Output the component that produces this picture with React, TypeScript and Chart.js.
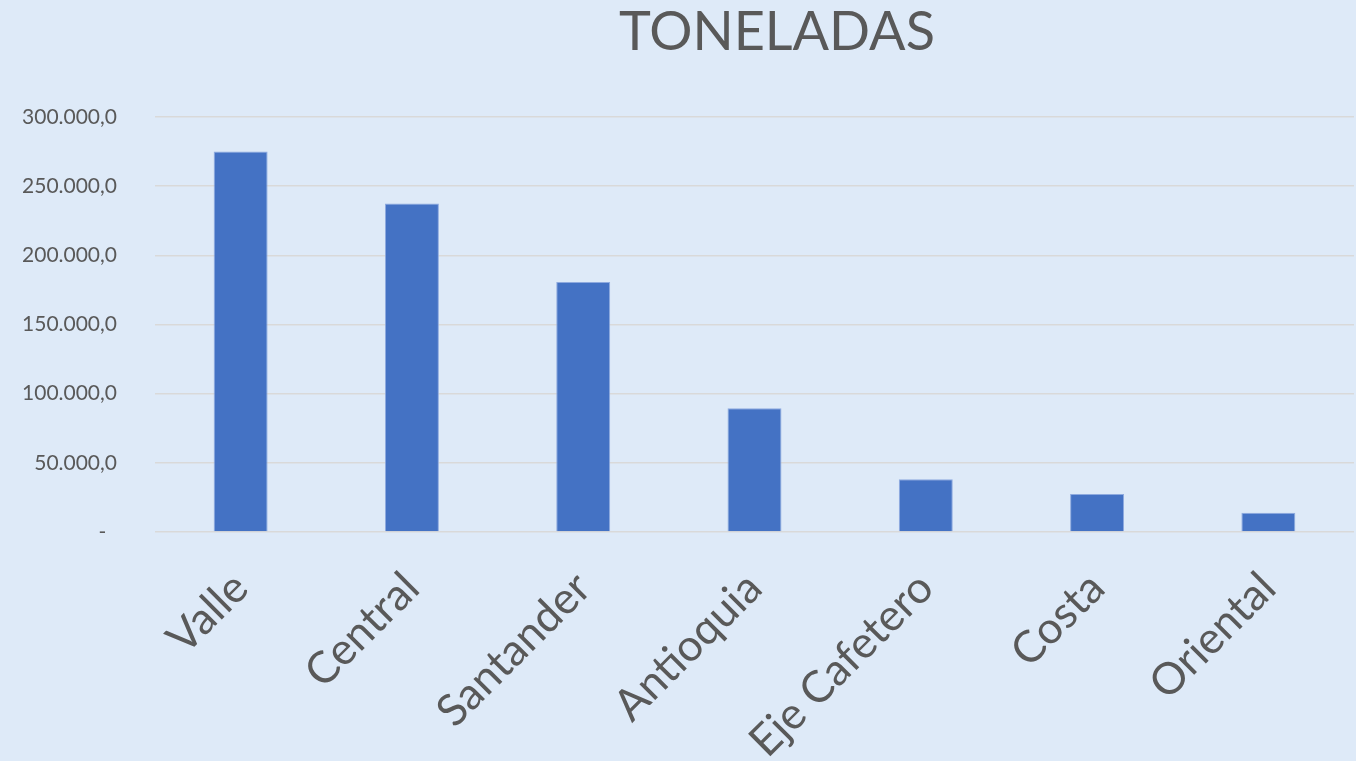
import React, { useEffect, useRef } from "react";
import { Chart, registerables } from "chart.js";

Chart.register(...registerables);

const categories = ["Valle", "Central", "Santander", "Antioquia", "Eje Cafetero", "Costa", "Oriental"];
const toneladas = [275000, 237500, 180800, 89400, 38200, 27400, 14000];
const yTicks = [0, 50000, 100000, 150000, 200000, 250000, 300000];
const titleText = "TONELADAS";

const BG = "#DEEAF8";
const TEXT = "#595959";
const FONT = "Lato, 'Open Sans', sans-serif";

function fmt(v: number): string {
  if (v === 0) return "-  ";
  const s = Math.round(v).toString().replace(/\B(?=(\d{3})+(?!\d))/g, ".");
  return s + ",0";
}

const titlePlugin = {
  id: "customTitle",
  afterDraw(chart: any) {
    const ctx = chart.ctx;
    ctx.save();
    ctx.fillStyle = TEXT;
    ctx.font = `54px ${FONT}`;
    ctx.textAlign = "center";
    ctx.textBaseline = "alphabetic";
    ctx.fillText(titleText, 777, 50);
    ctx.restore();
  },
};

export default function App() {
  const ref = useRef<HTMLCanvasElement | null>(null);
  useEffect(() => {
    document.body.style.margin = "0";
    document.body.style.background = BG;
    const chart = new Chart(ref.current as HTMLCanvasElement, {
      type: "bar",
      data: {
        labels: categories,
        datasets: [
          {
            label: titleText,
            data: toneladas,
            backgroundColor: "#4472C4",
            borderColor: "#8EAADF",
            borderWidth: 1,
            barPercentage: 0.315,
            categoryPercentage: 1,
          },
        ],
      },
      options: {
        animation: false,
        responsive: false,
        maintainAspectRatio: false,
        layout: { padding: { top: 117, right: 2, left: 0, bottom: 0 } },
        plugins: {
          legend: { display: false },
          title: { display: false },
          tooltip: { enabled: false },
        },
        scales: {
          x: {
            grid: { display: false, drawTicks: false },
            border: { display: false },
            ticks: {
              color: TEXT,
              font: { family: FONT, size: 44 },
              maxRotation: 45,
              minRotation: 45,
              padding: 30,
              autoSkip: false,
            },
            afterFit(scale: any) {
              scale.height = 229;
            },
          },
          y: {
            min: 0,
            max: 300000,
            afterBuildTicks(scale: any) {
              scale.ticks = yTicks.map((v) => ({ value: v }));
            },
            grid: { color: "#D9D9D9", lineWidth: 1.5, drawTicks: false },
            border: { display: false },
            ticks: {
              color: TEXT,
              font: { family: FONT, size: 21 },
              padding: 38,
              callback: (v: any) => fmt(Number(v)),
            },
            afterFit(scale: any) {
              scale.width = 155;
            },
          },
        },
      },
      plugins: [titlePlugin],
    });
    return () => chart.destroy();
  }, []);
  return (
    <div style={{ width: 1356, height: 761, background: BG }}>
      <canvas ref={ref} width={1356} height={761} style={{ display: "block" }} />
    </div>
  );
}
